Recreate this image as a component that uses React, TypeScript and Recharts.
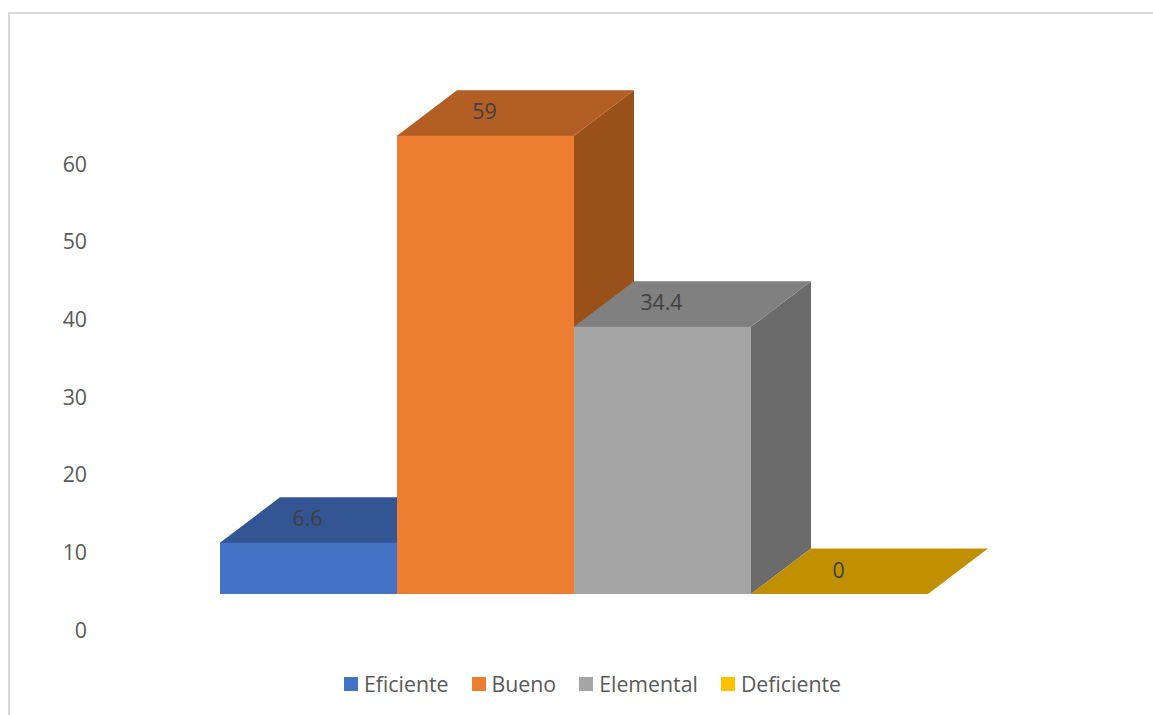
import React from "react";
import { BarChart, Bar, XAxis, YAxis, Legend, LabelList } from "recharts";

const seriesNames = ["Eficiente", "Bueno", "Elemental", "Deficiente"];
const seriesValues = [6.6, 59, 34.4, 0];
const seriesColors = ["#4472C4", "#ED7D31", "#A5A5A5", "#FFC000"];
const topColors = ["#335593", "#B25E25", "#808080", "#C09000"];
const sideColors = ["#2C4A80", "#9A5119", "#6B6B6B", "#A67C00"];
const yTicks = [0, 10, 20, 30, 40, 50, 60];

const row: Record<string, string | number> = { category: "Nivel" };
seriesNames.forEach((n, i) => {
  row[n] = seriesValues[i];
});
const data = [row];

const FONT = "'Open Sans', Lato, sans-serif";
const FONT_SIZE = 21.3;
const DEPTH_X = 60;
const DEPTH_Y = 45.5;
const TICK_SHIFT = 35;

const makeBox = (i: number) => (props: any) => {
  const { x, y, width, height } = props;
  const bottom = y + height;
  const right = x + width;
  const dx = DEPTH_X;
  const dy = DEPTH_Y;
  const overlap = height > 0 ? 1 : 0;
  return (
    <g>
      <polygon
        points={`${right},${y} ${right + dx},${y - dy} ${right + dx},${bottom - dy} ${right},${bottom}`}
        fill={sideColors[i]}
      />
      <polygon
        points={`${x},${y} ${x + dx},${y - dy} ${right + dx},${y - dy} ${right},${y} ${right},${y + overlap} ${x},${y + overlap}`}
        fill={topColors[i]}
      />
      {height > 0 && <rect x={x} y={y} width={width} height={height} fill={seriesColors[i]} />}
    </g>
  );
};

const BoxLabel = (props: any) => {
  const { x, y, width, value } = props;
  return (
    <text
      x={x + width / 2 - 1}
      y={y - 25}
      textAnchor="middle"
      dominantBaseline="central"
      fontFamily={FONT}
      fontSize={FONT_SIZE}
      fill="#404040"
    >
      {value}
    </text>
  );
};

const YTick = (props: any) => {
  const { y, payload } = props;
  return (
    <text
      x={87}
      y={y + TICK_SHIFT}
      textAnchor="end"
      dominantBaseline="central"
      fontFamily={FONT}
      fontSize={FONT_SIZE}
      fill="#595959"
    >
      {payload.value}
    </text>
  );
};

const LegendRow = () => (
  <div
    style={{
      position: "absolute",
      left: 344,
      top: 671,
      display: "flex",
      alignItems: "center",
      fontFamily: FONT,
      fontSize: FONT_SIZE,
      lineHeight: "26px",
      color: "#595959",
      whiteSpace: "nowrap",
    }}
  >
    {seriesNames.map((n, i) => (
      <div key={n} style={{ display: "flex", alignItems: "center", marginRight: 23 }}>
        <span
          style={{ width: 14, height: 14, background: seriesColors[i], marginRight: 6, display: "inline-block" }}
        />
        <span>{n}</span>
      </div>
    ))}
  </div>
);

export default function App() {
  return (
    <div style={{ position: "absolute", left: 0, top: 0, width: 1153, height: 715, overflow: "hidden", background: "#fff" }}>
      <div
        style={{
          position: "absolute",
          left: 8,
          top: 12,
          right: 0,
          bottom: 0,
          borderLeft: "2px solid #D9D9D9",
          borderTop: "2px solid #D9D9D9",
        }}
      />
      <div style={{ position: "absolute", left: 0, top: 0 }}>
        <BarChart
          width={1153}
          height={715}
          data={data}
          margin={{ top: 128, right: 225, bottom: 121, left: 0 }}
          barCategoryGap={0}
          barGap={0}
        >
          <XAxis dataKey="category" hide />
          <YAxis width={220} domain={[0, 60]} ticks={yTicks} axisLine={false} tickLine={false} tick={<YTick />} />
          <Legend content={() => <LegendRow />} wrapperStyle={{ position: "absolute", left: 0, top: 0, width: 0, height: 0 }} height={0} />
          {seriesNames.map((n, i) => (
            <Bar key={n} dataKey={n} name={n} fill={seriesColors[i]} shape={makeBox(i)} isAnimationActive={false}>
              <LabelList dataKey={n} content={<BoxLabel />} />
            </Bar>
          ))}
        </BarChart>
      </div>
    </div>
  );
}
